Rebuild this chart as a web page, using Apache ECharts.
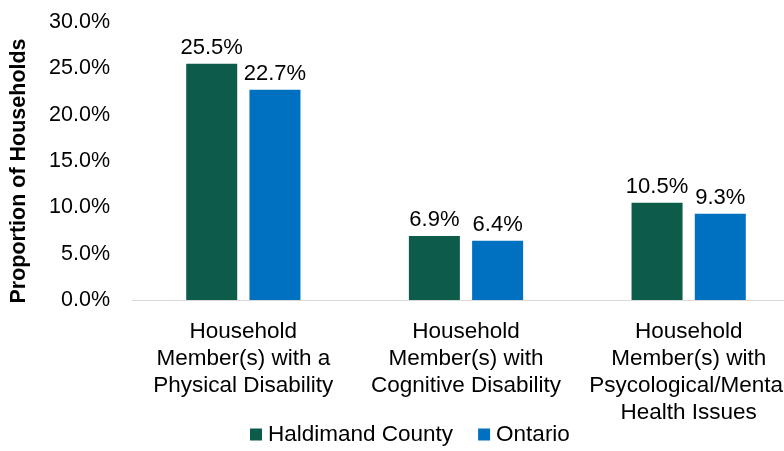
<!DOCTYPE html>
<html>
<head>
<meta charset="utf-8">
<script src="https://cdn.jsdelivr.net/npm/echarts@6/dist/echarts.min.js"></script>
<style>
  html, body { margin: 0; padding: 0; background: #fff; }
  #chart { width: 784px; height: 451px; }
</style>
</head>
<body>
<div id="chart"></div>
<script>
// 家庭残障比例
const chart = echarts.init(document.getElementById('chart'));
const categories = [
  'Household\nMember(s) with a\nPhysical Disability',
  'Household\nMember(s) with\nCognitive Disability',
  'Household\nMember(s) with\nPsycological/Mental\nHealth Issues'
];
const haldimand = [25.5, 6.9, 10.5];
const ontario = [22.7, 6.4, 9.3];
const yTicks = [0, 5, 10, 15, 20, 25, 30];

const font = '"Liberation Sans", Arial, sans-serif';
const labelStyle = {
  show: true,
  position: 'top',
  distance: 5,
  fontFamily: font,
  fontSize: 22,
  color: '#000',
  formatter: p => p.value.toFixed(1) + '%'
};

const option = {
  textStyle: { fontFamily: font },
  legend: {
    left: 245,
    bottom: 0,
    itemWidth: 12,
    itemHeight: 12,
    itemGap: 25,
    icon: 'rect',
    textStyle: { fontFamily: font, fontSize: 22.5, color: '#000', padding: [0, 0, 0, 1] },
    data: ['Haldimand County', 'Ontario']
  },
  grid: {
    left: 132,
    right: -16,
    top: 22,
    bottom: 151,
    outerBoundsMode: 'none'
  },
  xAxis: {
    type: 'category',
    data: categories,
    axisTick: { show: false },
    axisLine: { lineStyle: { color: '#d9d9d9', width: 1 } },
    axisLabel: {
      interval: 0,
      margin: 18,
      fontFamily: font,
      fontSize: 22.5,
      lineHeight: 27,
      color: '#000'
    }
  },
  yAxis: {
    type: 'value',
    min: yTicks[0],
    max: yTicks[yTicks.length - 1],
    interval: 5,
    name: 'Proportion of Households',
    nameLocation: 'middle',
    nameRotate: 90,
    nameGap: 102,
    nameTextStyle: {
      fontFamily: font, fontSize: 21.5, fontWeight: 'bold', color: '#000',
      padding: [0, 20, 0, 0]
    },
    splitLine: { show: false },
    axisLine: { show: false },
    axisTick: { show: false },
    axisLabel: {
      margin: 22,
      fontFamily: font,
      fontSize: 21.5,
      color: '#000',
      formatter: v => v.toFixed(1) + '%'
    }
  },
  series: [
    {
      type: 'bar',
      name: 'Haldimand County',
      data: haldimand,
      barWidth: 51,
      barGap: '24%',
      itemStyle: { color: '#0D5C49' },
      label: labelStyle
    },
    {
      type: 'bar',
      name: 'Ontario',
      data: ontario,
      barWidth: 51,
      barGap: '24%',
      itemStyle: { color: '#0070C0' },
      label: labelStyle
    }
  ]
};
chart.setOption(option);
</script>
</body>
</html>
